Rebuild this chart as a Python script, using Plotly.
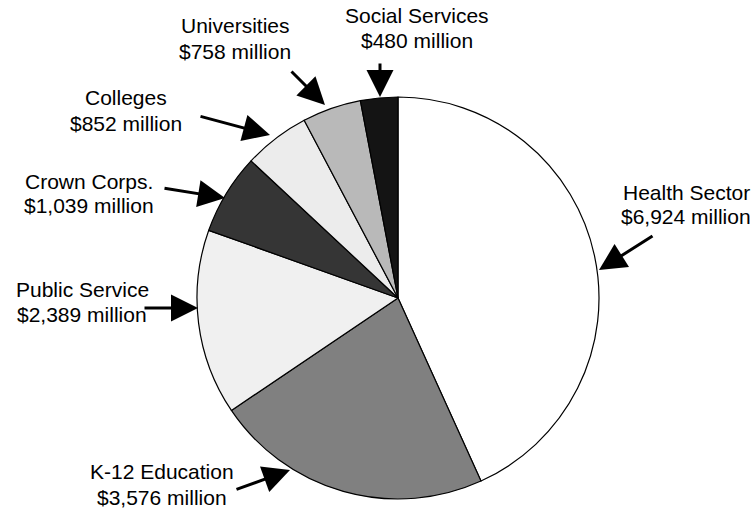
import plotly.graph_objects as go

# ---- data ----
categories = ["Health Sector", "K-12 Education", "Public Service", "Crown Corps.",
              "Colleges", "Universities", "Social Services"]
values = [6924, 3576, 2389, 1039, 852, 758, 480]
value_labels = ["$6,924 million", "$3,576 million", "$2,389 million", "$1,039 million",
                "$852 million", "$758 million", "$480 million"]
colors = ["#ffffff", "#808080", "#f0f0f0", "#353535", "#ececec", "#b9b9b9", "#141414"]

# ---- layout: label placement (pixels in 753x508 canvas) ----
W, H = 753, 508
# (text centre x, line1 y, line2 y, arrow tail x, tail y, arrow tip x, tip y)
label_pos = {
    "Health Sector":   (686, 192, 216, 654, 235, 599, 270),
    "K-12 Education":  (162, 471, 497, 235, 490, 290, 470),
    "Public Service":  (82, 289, 314, 143, 308, 198, 308),
    "Crown Corps.":    (89, 181, 206, 163, 188, 225, 198),
    "Colleges":        (126, 97, 123, 199, 116, 270, 135),
    "Universities":    (235, 25, 51, 290, 70, 325, 105),
    "Social Services": (417, 16, 41, 380, 62, 380, 97),
}

font = dict(family="Liberation Sans, Arial, sans-serif", size=21, color="#000000")

fig = go.Figure(go.Pie(
    labels=categories,
    values=values,
    sort=False,
    direction="clockwise",
    rotation=0,
    marker=dict(colors=colors, line=dict(color="#000000", width=1.2)),
    textinfo="none",
    hoverinfo="label+value",
    domain=dict(x=[197 / W, 599 / W], y=[1 - 499 / H, 1 - 97 / H]),
    showlegend=False,
))

annotations = []
for cat, vlab in zip(categories, value_labels):
    cx, y1, y2, tx, ty, hx, hy = label_pos[cat]
    for txt, yy in ((cat, y1), (vlab, y2)):
        annotations.append(dict(
            text=txt, x=cx / W, y=1 - yy / H, xref="paper", yref="paper",
            xanchor="center", yanchor="middle", showarrow=False, font=font,
        ))
    annotations.append(dict(
        text="", x=hx / W, y=1 - hy / H, xref="paper", yref="paper",
        ax=tx - hx, ay=ty - hy, axref="pixel", ayref="pixel",
        showarrow=True, arrowhead=2, arrowsize=1.8, arrowwidth=3,
        arrowcolor="#000000", standoff=0,
    ))

fig.update_layout(
    width=W, height=H,
    margin=dict(l=0, r=0, t=0, b=0),
    paper_bgcolor="#ffffff", plot_bgcolor="#ffffff",
    annotations=annotations,
)

fig.write_html("out.html",
               config={"displayModeBar": False},
               post_script="document.body.style.margin='0';document.body.style.overflow='hidden';")
